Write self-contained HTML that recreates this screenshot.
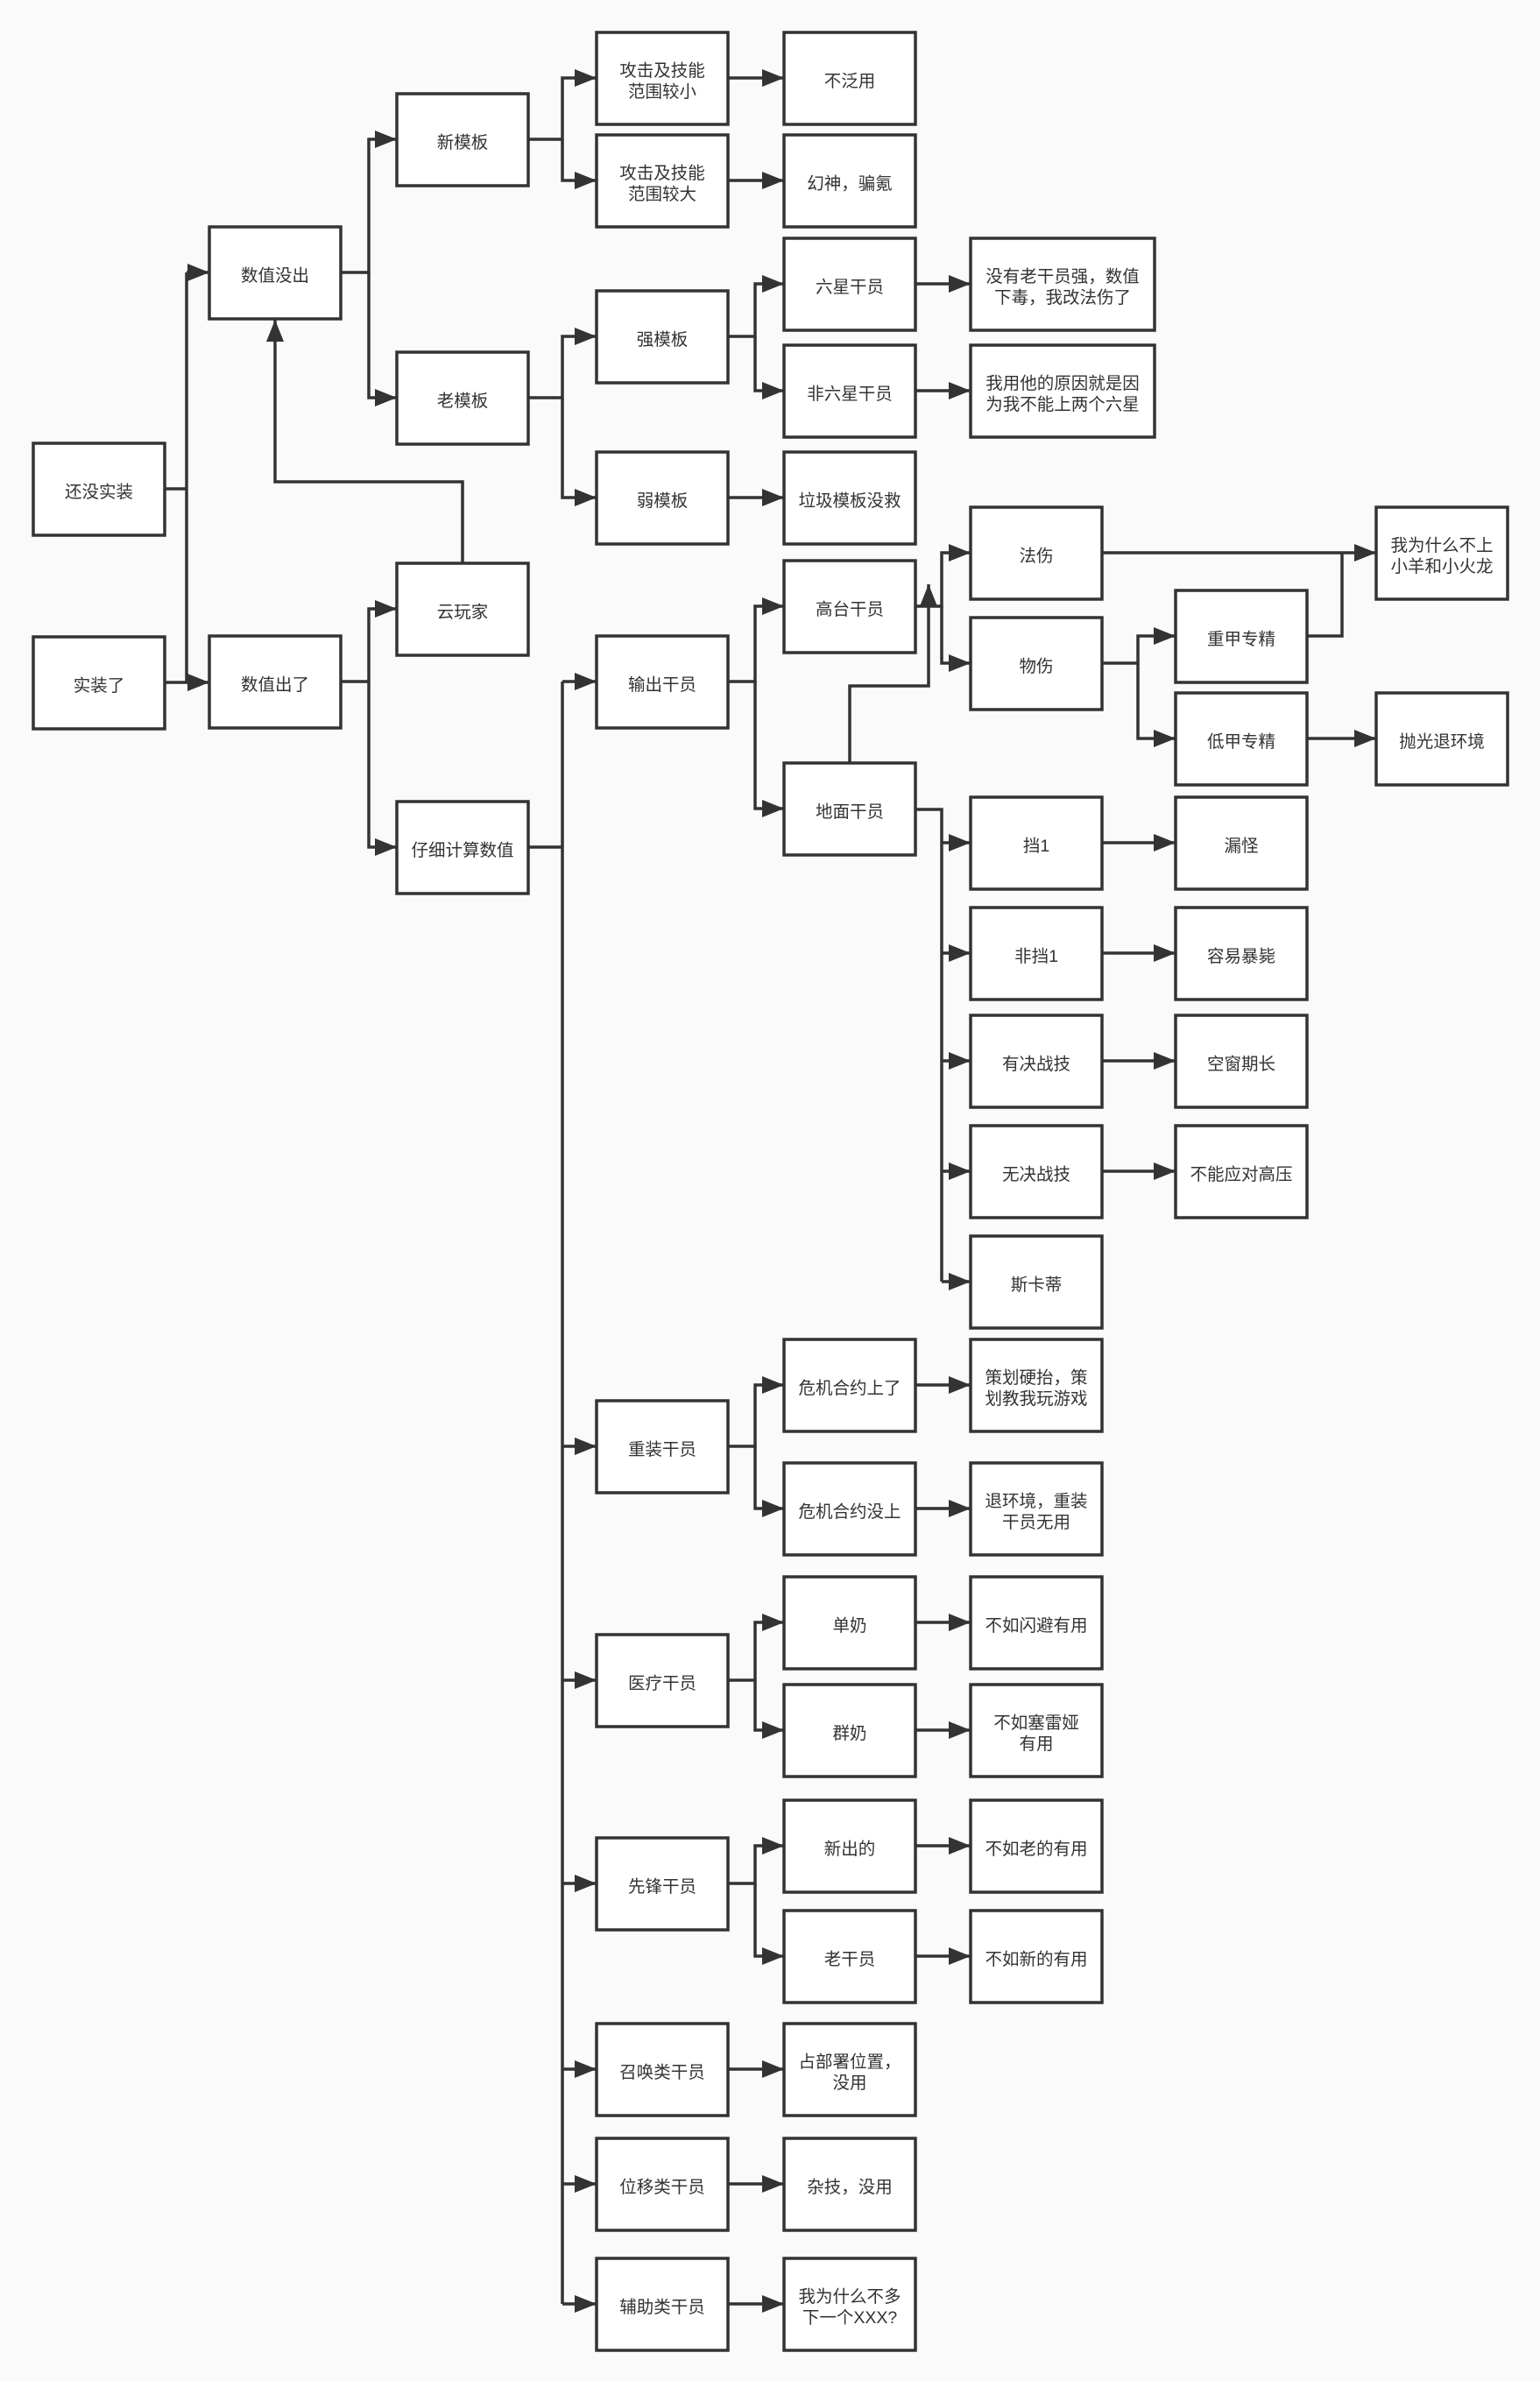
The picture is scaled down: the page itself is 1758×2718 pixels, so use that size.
<!DOCTYPE html>
<html><head><meta charset="utf-8"><style>
html,body{margin:0;padding:0;background:#fafafa;}
svg{display:block;}
text{font-family:"Liberation Sans","Noto Sans CJK SC",sans-serif;font-size:19.5px;fill:#333;text-anchor:middle;dominant-baseline:central;transform:translateY(4px);}
rect{fill:#fff;stroke:#333;stroke-width:3.5;}
path{fill:none;stroke:#333;stroke-width:3.5;}
</style></head><body>
<svg width="1758" height="2718" viewBox="0 0 1758 2718" xmlns="http://www.w3.org/2000/svg">
<defs><marker id="a" markerUnits="userSpaceOnUse" markerWidth="26" markerHeight="22" refX="25" refY="10" orient="auto"><path d="M0,0 L25,10 L0,20 z" style="fill:#333;stroke:none"/></marker></defs>
<g id="edges">
<path d="M188,558 H213"/><path d="M188,779 H213"/>
<path d="M213,311 V779"/>
<path d="M213,311 H239" marker-end="url(#a)"/>
<path d="M213,779 H239" marker-end="url(#a)"/>
<path d="M389,311 H421 V159 H453" marker-end="url(#a)"/>
<path d="M421,311 V454 H453" marker-end="url(#a)"/>
<path d="M389,778 H421 V695 H453" marker-end="url(#a)"/>
<path d="M421,778 V967 H453" marker-end="url(#a)"/>
<path d="M528,643 V550 H314 V365" marker-end="url(#a)"/>
<path d="M603,159 H642 V89 H681" marker-end="url(#a)"/>
<path d="M642,159 V206 H681" marker-end="url(#a)"/>
<path d="M603,454 H642 V384 H681" marker-end="url(#a)"/>
<path d="M642,454 V568 H681" marker-end="url(#a)"/>
<path d="M603,967 H642"/>
<path d="M642,778 V2630"/>
<path d="M642,778 H681" marker-end="url(#a)"/>
<path d="M642,1651 H681" marker-end="url(#a)"/>
<path d="M642,1918 H681" marker-end="url(#a)"/>
<path d="M642,2150 H681" marker-end="url(#a)"/>
<path d="M642,2362 H681" marker-end="url(#a)"/>
<path d="M642,2493 H681" marker-end="url(#a)"/>
<path d="M642,2630 H681" marker-end="url(#a)"/>
<path d="M831,89 H895" marker-end="url(#a)"/>
<path d="M831,206 H895" marker-end="url(#a)"/>
<path d="M831,384 H862 V324 H895" marker-end="url(#a)"/>
<path d="M862,384 V446 H895" marker-end="url(#a)"/>
<path d="M831,568 H895" marker-end="url(#a)"/>
<path d="M831,778 H862 V692 H895" marker-end="url(#a)"/>
<path d="M862,778 V923 H895" marker-end="url(#a)"/>
<path d="M831,1651 H862 V1581 H895" marker-end="url(#a)"/>
<path d="M862,1651 V1722 H895" marker-end="url(#a)"/>
<path d="M831,1918 H862 V1852 H895" marker-end="url(#a)"/>
<path d="M862,1918 V1975 H895" marker-end="url(#a)"/>
<path d="M831,2150 H862 V2107 H895" marker-end="url(#a)"/>
<path d="M862,2150 V2233 H895" marker-end="url(#a)"/>
<path d="M831,2362 H895" marker-end="url(#a)"/>
<path d="M831,2493 H895" marker-end="url(#a)"/>
<path d="M831,2630 H895" marker-end="url(#a)"/>
<path d="M1045,324 H1108" marker-end="url(#a)"/>
<path d="M1045,446 H1108" marker-end="url(#a)"/>
<path d="M1045,692 H1075 V631 H1108" marker-end="url(#a)"/>
<path d="M1075,692 V757 H1108" marker-end="url(#a)"/>
<path d="M970,871 V783 H1060 V667" marker-end="url(#a)"/>
<path d="M1045,924 H1075 V1463"/>
<path d="M1075,962 H1108" marker-end="url(#a)"/>
<path d="M1075,1088 H1108" marker-end="url(#a)"/>
<path d="M1075,1211 H1108" marker-end="url(#a)"/>
<path d="M1075,1337 H1108" marker-end="url(#a)"/>
<path d="M1075,1463 H1108" marker-end="url(#a)"/>
<path d="M1045,1581 H1108" marker-end="url(#a)"/>
<path d="M1045,1722 H1108" marker-end="url(#a)"/>
<path d="M1045,1852 H1108" marker-end="url(#a)"/>
<path d="M1045,1975 H1108" marker-end="url(#a)"/>
<path d="M1045,2107 H1108" marker-end="url(#a)"/>
<path d="M1045,2233 H1108" marker-end="url(#a)"/>
<path d="M1258,631 H1571" marker-end="url(#a)"/>
<path d="M1258,757 H1299 V726 H1342" marker-end="url(#a)"/>
<path d="M1299,757 V843 H1342" marker-end="url(#a)"/>
<path d="M1258,962 H1342" marker-end="url(#a)"/>
<path d="M1258,1088 H1342" marker-end="url(#a)"/>
<path d="M1258,1211 H1342" marker-end="url(#a)"/>
<path d="M1258,1337 H1342" marker-end="url(#a)"/>
<path d="M1492,726 H1532 V631"/>
<path d="M1492,843 H1571" marker-end="url(#a)"/>
</g>
<g id="boxes">
<rect x="38" y="506" width="150" height="105"/><text x="113" y="558">还没实装</text>
<rect x="38" y="727" width="150" height="105"/><text x="113" y="779">实装了</text>
<rect x="239" y="259" width="150" height="105"/><text x="314" y="311">数值没出</text>
<rect x="239" y="726" width="150" height="105"/><text x="314" y="778">数值出了</text>
<rect x="453" y="107" width="150" height="105"/><text x="528" y="159">新模板</text>
<rect x="453" y="402" width="150" height="105"/><text x="528" y="454">老模板</text>
<rect x="453" y="643" width="150" height="105"/><text x="528" y="695">云玩家</text>
<rect x="453" y="915" width="150" height="105"/><text x="528" y="967">仔细计算数值</text>
<rect x="681" y="37" width="150" height="105"/><text x="756" y="77">攻击及技能</text><text x="756" y="101">范围较小</text>
<rect x="681" y="154" width="150" height="105"/><text x="756" y="194">攻击及技能</text><text x="756" y="218">范围较大</text>
<rect x="681" y="332" width="150" height="105"/><text x="756" y="384">强模板</text>
<rect x="681" y="516" width="150" height="105"/><text x="756" y="568">弱模板</text>
<rect x="681" y="726" width="150" height="105"/><text x="756" y="778">输出干员</text>
<rect x="681" y="1599" width="150" height="105"/><text x="756" y="1651">重装干员</text>
<rect x="681" y="1866" width="150" height="105"/><text x="756" y="1918">医疗干员</text>
<rect x="681" y="2098" width="150" height="105"/><text x="756" y="2150">先锋干员</text>
<rect x="681" y="2310" width="150" height="105"/><text x="756" y="2362">召唤类干员</text>
<rect x="681" y="2441" width="150" height="105"/><text x="756" y="2493">位移类干员</text>
<rect x="681" y="2578" width="150" height="105"/><text x="756" y="2630">辅助类干员</text>
<rect x="895" y="37" width="150" height="105"/><text x="970" y="89">不泛用</text>
<rect x="895" y="154" width="150" height="105"/><text x="970" y="206">幻神，骗氪</text>
<rect x="895" y="272" width="150" height="105"/><text x="970" y="324">六星干员</text>
<rect x="895" y="394" width="150" height="105"/><text x="970" y="446">非六星干员</text>
<rect x="895" y="516" width="150" height="105"/><text x="970" y="568">垃圾模板没救</text>
<rect x="895" y="640" width="150" height="105"/><text x="970" y="692">高台干员</text>
<rect x="895" y="871" width="150" height="105"/><text x="970" y="923">地面干员</text>
<rect x="895" y="1529" width="150" height="105"/><text x="970" y="1581">危机合约上了</text>
<rect x="895" y="1670" width="150" height="105"/><text x="970" y="1722">危机合约没上</text>
<rect x="895" y="1800" width="150" height="105"/><text x="970" y="1852">单奶</text>
<rect x="895" y="1923" width="150" height="105"/><text x="970" y="1975">群奶</text>
<rect x="895" y="2055" width="150" height="105"/><text x="970" y="2107">新出的</text>
<rect x="895" y="2181" width="150" height="105"/><text x="970" y="2233">老干员</text>
<rect x="895" y="2310" width="150" height="105"/><text x="970" y="2350">占部署位置，</text><text x="970" y="2374">没用</text>
<rect x="895" y="2441" width="150" height="105"/><text x="970" y="2493">杂技，没用</text>
<rect x="895" y="2578" width="150" height="105"/><text x="970" y="2618">我为什么不多</text><text x="970" y="2642">下一个XXX?</text>
<rect x="1108" y="272" width="210" height="105"/><text x="1213" y="312">没有老干员强，数值</text><text x="1213" y="336">下毒，我改法伤了</text>
<rect x="1108" y="394" width="210" height="105"/><text x="1213" y="434">我用他的原因就是因</text><text x="1213" y="458">为我不能上两个六星</text>
<rect x="1108" y="579" width="150" height="105"/><text x="1183" y="631">法伤</text>
<rect x="1108" y="705" width="150" height="105"/><text x="1183" y="757">物伤</text>
<rect x="1108" y="910" width="150" height="105"/><text x="1183" y="962">挡1</text>
<rect x="1108" y="1036" width="150" height="105"/><text x="1183" y="1088">非挡1</text>
<rect x="1108" y="1159" width="150" height="105"/><text x="1183" y="1211">有决战技</text>
<rect x="1108" y="1285" width="150" height="105"/><text x="1183" y="1337">无决战技</text>
<rect x="1108" y="1411" width="150" height="105"/><text x="1183" y="1463">斯卡蒂</text>
<rect x="1108" y="1529" width="150" height="105"/><text x="1183" y="1569">策划硬抬，策</text><text x="1183" y="1593">划教我玩游戏</text>
<rect x="1108" y="1670" width="150" height="105"/><text x="1183" y="1710">退环境，重装</text><text x="1183" y="1734">干员无用</text>
<rect x="1108" y="1800" width="150" height="105"/><text x="1183" y="1852">不如闪避有用</text>
<rect x="1108" y="1923" width="150" height="105"/><text x="1183" y="1963">不如塞雷娅</text><text x="1183" y="1987">有用</text>
<rect x="1108" y="2055" width="150" height="105"/><text x="1183" y="2107">不如老的有用</text>
<rect x="1108" y="2181" width="150" height="105"/><text x="1183" y="2233">不如新的有用</text>
<rect x="1342" y="674" width="150" height="105"/><text x="1417" y="726">重甲专精</text>
<rect x="1342" y="791" width="150" height="105"/><text x="1417" y="843">低甲专精</text>
<rect x="1342" y="910" width="150" height="105"/><text x="1417" y="962">漏怪</text>
<rect x="1342" y="1036" width="150" height="105"/><text x="1417" y="1088">容易暴毙</text>
<rect x="1342" y="1159" width="150" height="105"/><text x="1417" y="1211">空窗期长</text>
<rect x="1342" y="1285" width="150" height="105"/><text x="1417" y="1337">不能应对高压</text>
<rect x="1571" y="579" width="150" height="105"/><text x="1646" y="619">我为什么不上</text><text x="1646" y="643">小羊和小火龙</text>
<rect x="1571" y="791" width="150" height="105"/><text x="1646" y="843">抛光退环境</text>
</g>
</svg>
</body></html>
